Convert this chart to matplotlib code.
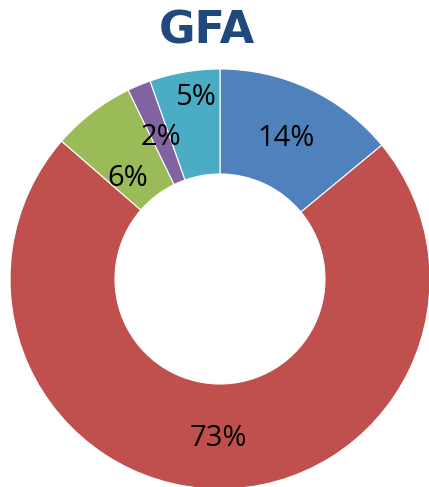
import numpy as np
import matplotlib.pyplot as plt

# data (clockwise from 12 o'clock)
shares = [14.0, 72.4, 6.4, 1.8, 5.4]
labels = ["14%", "73%", "6%", "2%", "5%"]
colors = ["#4F81BD", "#C0504D", "#9BBB59", "#8064A2", "#4BACC6"]
# label placement tweaks (radius factor, angle shift in degrees)
lab_r = [0.74, 0.76, 0.65, 0.73, 0.87]
lab_da = [0, 0, 5, 0, -2]

fig = plt.figure(figsize=(4.29, 4.87), dpi=100)
ax = fig.add_axes([10 / 429, -2 / 487, 420 / 429, 420 / 487])

wedges, _ = ax.pie(shares, colors=colors, startangle=90, counterclock=False,
                   radius=1.0, wedgeprops=dict(width=0.5, edgecolor="white", linewidth=0.8))

for w, t, rf, da in zip(wedges, labels, lab_r, lab_da):
    ang = np.deg2rad((w.theta1 + w.theta2) / 2 + da)
    ax.text(rf * np.cos(ang), rf * np.sin(ang), t, ha="center", va="center",
            fontsize=21, family="Open Sans", color="black")

ax.set_xlim(-1, 1)
ax.set_ylim(-1, 1)
ax.set_aspect("equal")
ax.axis("off")

fig.text(0.483, 0.936, "GFA", ha="center", va="center", fontsize=32,
         fontweight="bold", family="DejaVu Sans", color="#1F497D")

fig.savefig("out.png", dpi=100)
